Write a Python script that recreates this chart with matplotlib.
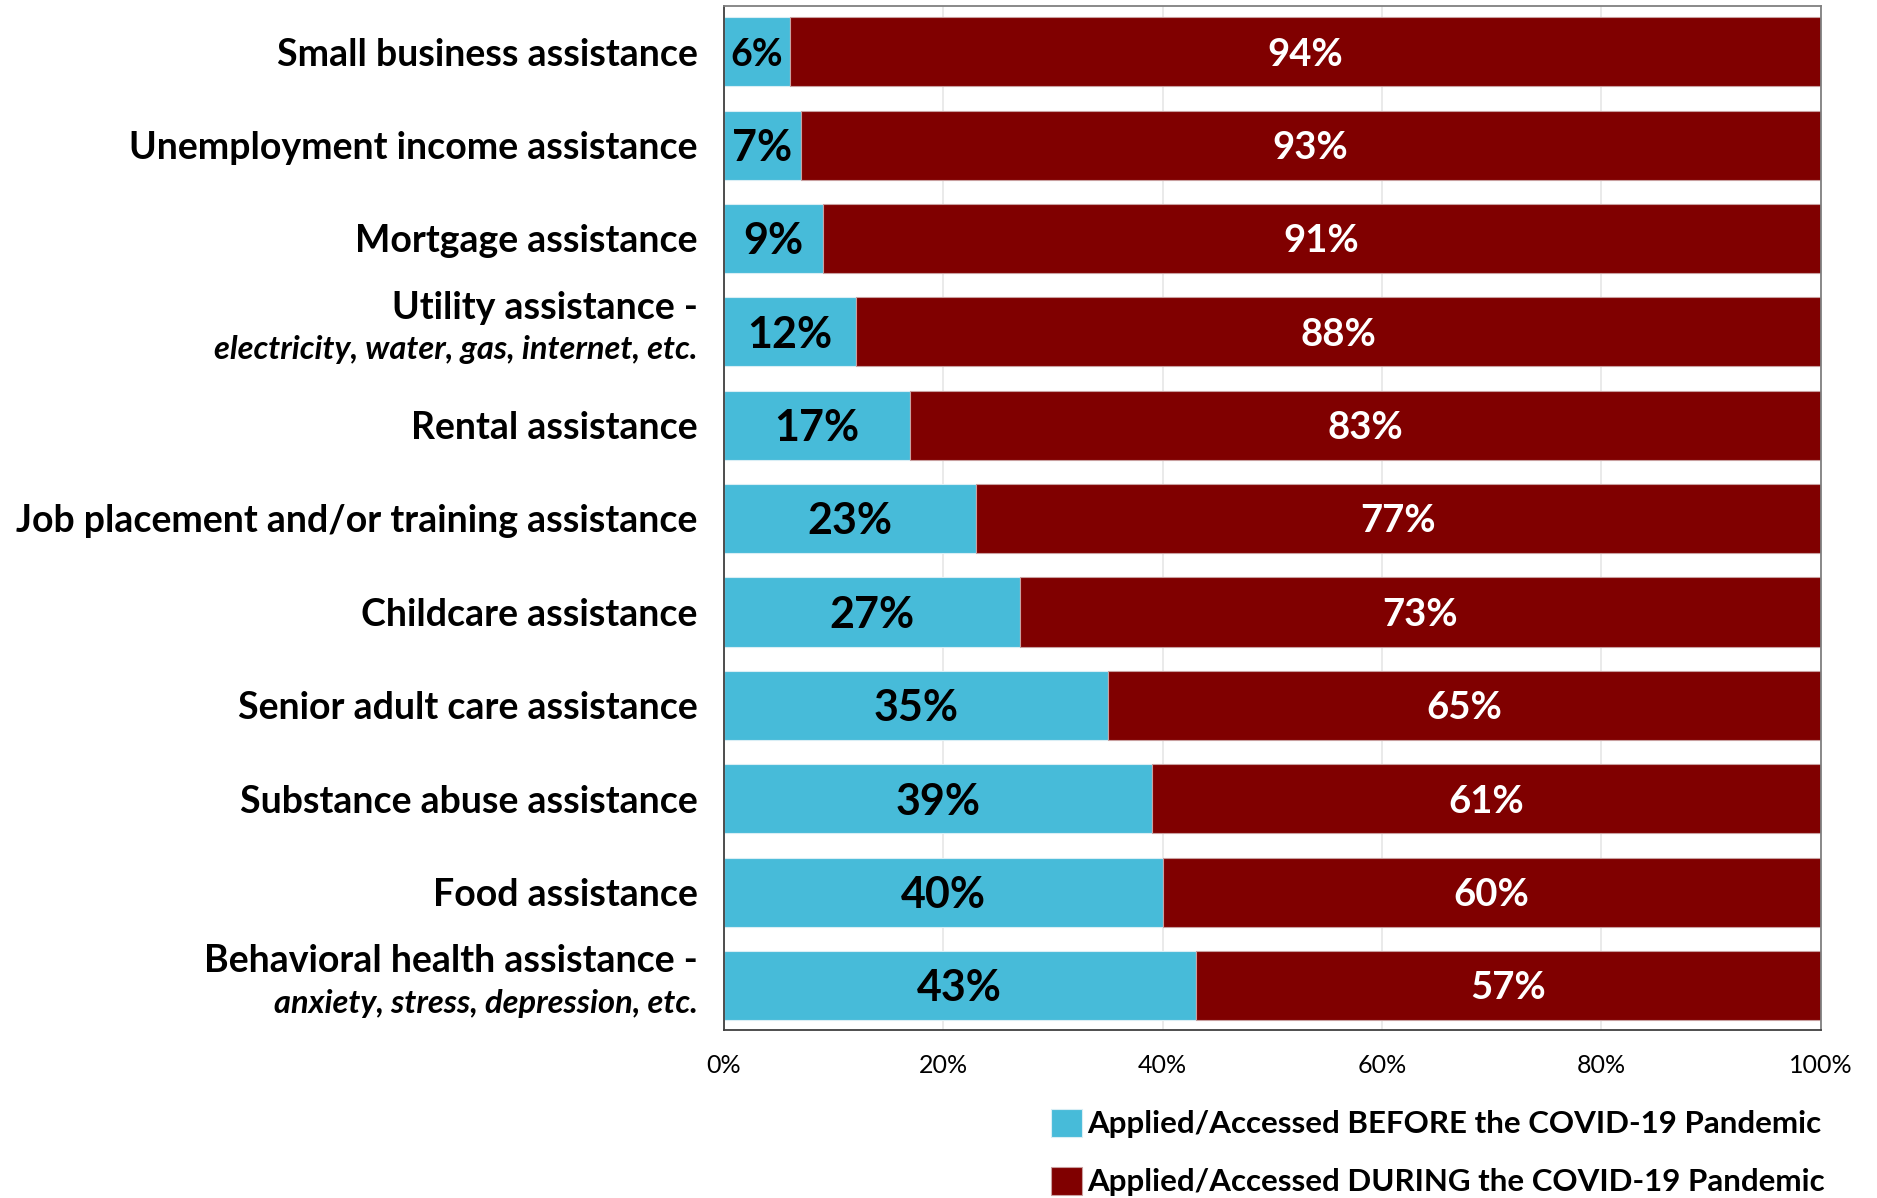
import matplotlib.pyplot as plt
import matplotlib.transforms as mtransforms
import numpy as np

plt.rcParams['font.family'] = ['Lato', 'DejaVu Sans']

# categories, top to bottom
categories = [
    ('Small business assistance', ''),
    ('Unemployment income assistance', ''),
    ('Mortgage assistance', ''),
    ('Utility assistance -', 'electricity, water, gas, internet, etc.'),
    ('Rental assistance', ''),
    ('Job placement and/or training assistance', ''),
    ('Childcare assistance', ''),
    ('Senior adult care assistance', ''),
    ('Substance abuse assistance', ''),
    ('Food assistance', ''),
    ('Behavioral health assistance -', 'anxiety, stress, depression, etc.'),
]
before = [6, 7, 9, 12, 17, 23, 27, 35, 39, 40, 43]
during = [94, 93, 91, 88, 83, 77, 73, 65, 61, 60, 57]
series_names = ['Applied/Accessed BEFORE the COVID-19 Pandemic',
                'Applied/Accessed DURING the COVID-19 Pandemic']

blue = '#47bbd9'
red = '#800000'

fig = plt.figure(figsize=(18.77, 11.98), dpi=100)
ax = fig.add_axes([0.3857, 0.140, 0.5843, 0.855])

y = np.arange(len(categories))
b1 = ax.barh(y, before, height=0.74, color=blue, edgecolor='#d9eef5', linewidth=0.8,
             label=series_names[0], zorder=2)
b2 = ax.barh(y, during, left=before, height=0.74, color=red, edgecolor='#c9a0a0',
             linewidth=0.8, label=series_names[1], zorder=2)

# value labels inside each segment
for i in range(len(y)):
    fs = 27 if before[i] < 7 else 31
    ax.text(before[i] / 2, y[i] + 0.03, f'{before[i]}%', ha='center', va='center',
            fontsize=fs, fontweight='bold', color='black', zorder=3)
    ax.text(before[i] + during[i] / 2, y[i] + 0.03, f'{during[i]}%', ha='center',
            va='center', fontsize=27.5, fontweight='bold', color='white', zorder=3)

ax.set_xlim(0, 100)
ax.set_ylim(10.48, -0.49)
ax.set_xticks([0, 20, 40, 60, 80, 100])
ax.set_xticklabels([f'{v}%' for v in range(0, 101, 20)])
ax.tick_params(axis='x', length=0, labelsize=18, pad=17)
ax.set_yticks([])
ax.grid(axis='x', color='#e6e6e6', linewidth=1.2, zorder=0)
ax.set_axisbelow(True)

ax.spines['left'].set_color('#404040')
ax.spines['bottom'].set_color('#404040')
ax.spines['top'].set_color('#808080')
ax.spines['right'].set_color('#808080')
for s in ax.spines.values():
    s.set_linewidth(1.3)

# category labels on the left
trans = mtransforms.blended_transform_factory(ax.transAxes, ax.transData)
for i, (main, sub) in enumerate(categories):
    if sub:
        ax.text(-0.024, y[i] - 0.26, main, transform=trans, ha='right', va='center',
                fontsize=27, fontweight='bold')
        ax.text(-0.024, y[i] + 0.19, sub, transform=trans, ha='right', va='center',
                fontsize=23.5, fontweight='bold', style='italic')
    else:
        ax.text(-0.024, y[i] + 0.03, main, transform=trans, ha='right', va='center',
                fontsize=27, fontweight='bold')

fig.legend(handles=[b1, b2], labels=series_names, loc='lower right',
           bbox_to_anchor=(0.987, -0.022), frameon=False,
           prop={'size': 22.5, 'weight': 'bold'}, handlelength=1.0, handleheight=1.0,
           handletextpad=0.15, labelspacing=0.9)

fig.savefig('out.png', dpi=100)
